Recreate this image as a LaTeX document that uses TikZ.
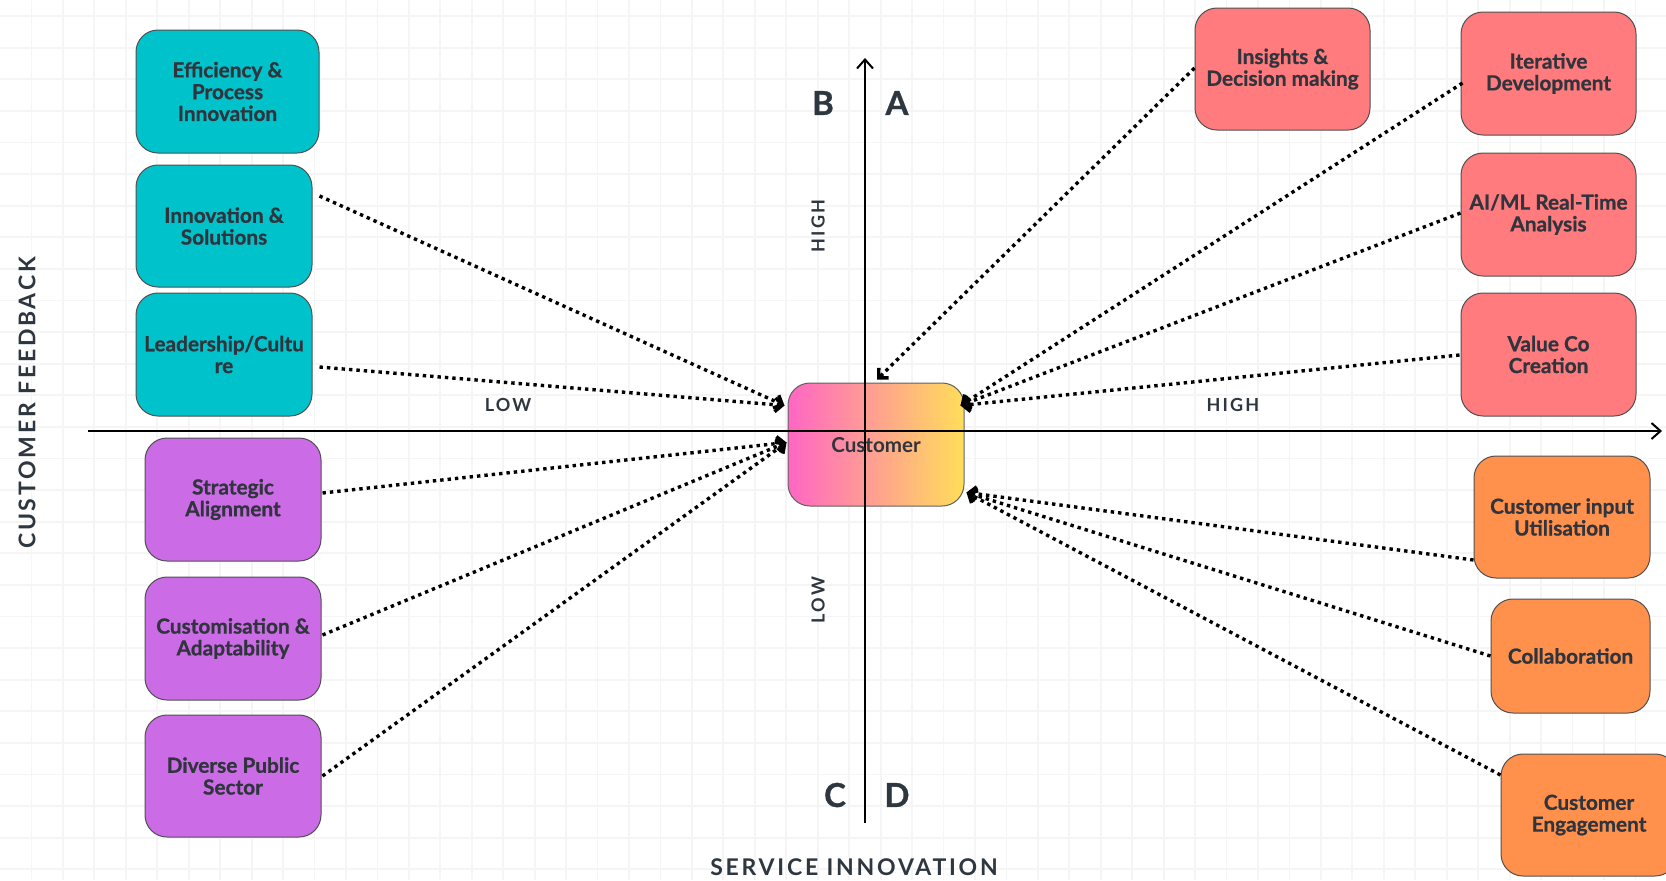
\documentclass[tikz,border=0pt]{standalone}
\usepackage{fontspec}
\setmainfont{Lato}
\newfontfamily\cardfont{Lato}[BoldFeatures={FakeBold=0.8}]
\newfontfamily\trackedfont{Lato}[LetterSpace=12]
\usetikzlibrary{arrows.meta,calc}

\definecolor{inkc}{HTML}{2E3640}
\definecolor{boxtextc}{HTML}{30343C}
\definecolor{edgec}{HTML}{505050}
\definecolor{gridc}{HTML}{F5F5F6}
\definecolor{tealc}{HTML}{00C2CB}
\definecolor{salmonc}{HTML}{FF7B7D}
\definecolor{violetc}{HTML}{CB6CE6}
\definecolor{orangec}{HTML}{FF914D}
\definecolor{pinkc}{HTML}{FF66C4}
\definecolor{yellowc}{HTML}{FFDE59}

\tikzset{
  gridline/.style={draw=gridc, line width=0.9pt},
  card/.style={draw=edgec, line width=0.5pt, rounded corners=11pt, align=center,
    inner sep=0pt, text=boxtextc, minimum width=88pt, minimum height=61pt,
    font=\cardfont\bfseries\fontsize{10.4}{10.9}\selectfont},
  axis/.style={line width=1pt, draw=black, -{Straight Barb[length=4.5pt,width=8pt]}},
  conn/.style={line width=1.7pt, dash pattern=on 1.7pt off 2pt,
    -{Straight Barb[length=3.5pt,width=7pt]}},
  quadrant/.style={text=inkc, font=\cardfont\bfseries\fontsize{16.5}{16.5}\selectfont},
  level/.style={text=inkc, font=\trackedfont\bfseries\fontsize{9}{9}\selectfont},
  title/.style={text=inkc, font=\trackedfont\bfseries\fontsize{11.5}{11.5}\selectfont}
}

\begin{document}
\begin{tikzpicture}[x=0.5pt,y=-0.5pt]
  \useasboundingbox (0,0) rectangle (1666,880);
  \clip (0,0) rectangle (1666,880);
  \fill[white] (0,0) rectangle (1666,880);

  % background grid
  \foreach \i in {1,...,53} \draw[gridline] (\i*31.45,0) -- (\i*31.45,880);
  \foreach \j in {0,...,27} \draw[gridline] (0,16+\j*31.6) -- (1666,16+\j*31.6);

  % central node
  \node[card, draw=edgec!90, left color=pinkc, right color=yellowc,
        minimum width=88pt, minimum height=61.5pt] (cust) at (876,444.5) {};

  % axes
  \coordinate (xl) at (88,431);
  \coordinate (xr) at (1662,431);
  \coordinate (yb) at (865,823);
  \coordinate (yt) at (865,58);
  \draw[axis] (xl) -- (xr);
  \draw[axis] (yb) -- (yt);

  \node[text=boxtextc, font=\bfseries\fontsize{10.3}{12}\selectfont] (custlabel) at (876,445) {Customer};

  % left column: teal
  \node[card, fill=tealc, minimum width=91.5pt, minimum height=61.5pt] (eff) at (227.5,91.5) {Efficiency \&\\Process\\Innovation};
  \node[card, fill=tealc] (inn) at (224,226) {Innovation \&\\Solutions};
  \node[card, fill=tealc, minimum height=61.5pt] (lead) at (224,354.5) {Leadership/Cultu\\re};

  % left column: violet
  \node[card, fill=violetc, minimum height=61.5pt] (strat) at (233,499.5) {Strategic\\Alignment};
  \node[card, fill=violetc, minimum height=61.5pt] (adapt) at (233,638.5) {Customisation \&\\Adaptability};
  \node[card, fill=violetc] (pub) at (233,776) {Diverse Public\\Sector};

  % right column: salmon
  \node[card, fill=salmonc, minimum width=87.5pt] (ins) at (1282.5,69) {Insights \&\\Decision making};
  \node[card, fill=salmonc, minimum width=87.5pt, minimum height=61.5pt] (iter) at (1548.5,73.5) {Iterative\\Development};
  \node[card, fill=salmonc, minimum width=87.5pt, minimum height=61.5pt] (aiml) at (1548.5,214.5) {AI/ML Real-Time\\Analysis};
  \node[card, fill=salmonc, minimum width=87.5pt, minimum height=61.5pt] (val) at (1548.5,354.5) {Value Co\\Creation};

  % right column: orange
  \node[card, fill=orangec] (cin) at (1562,517) {Customer input\\Utilisation};
  \node[card, fill=orangec, minimum width=79.5pt, minimum height=57pt] (coll) at (1570.5,656) {Collaboration};
  \node[card, fill=orangec] (eng) at (1589,815) {Customer\\Engagement};

  % arrow targets on the central node
  \coordinate (tUL) at ([shift={(-3,-39)}]cust.west);
  \coordinate (tLL) at ([shift={(-1,-2)}]cust.west);
  \coordinate (tTop) at ([shift={(1,-3)}]cust.north);
  \coordinate (tUR) at ([shift={(-4,-39)}]cust.east);
  \coordinate (tLR) at ([shift={(2,48)}]cust.east);

  % connectors
  \draw[conn] ([shift={(7,-30)}]inn.east) -- (tUL);
  \draw[conn] ([shift={(7,12.5)}]lead.east) -- (tUL);
  \draw[conn] ([shift={(1,-6.5)}]strat.east) -- (tLL);
  \draw[conn] ([shift={(1,-3.5)}]adapt.east) -- (tLL);
  \draw[conn] ([shift={(1,0)}]pub.east) -- (tLL);

  \draw[conn] ([shift={(0,-1)}]ins.west) -- (tTop);
  \draw[conn] ([shift={(2,9.5)}]iter.west) -- (tUR);
  \draw[conn] ([shift={(0,-1.5)}]aiml.west) -- (tUR);
  \draw[conn] ([shift={(-1,0.5)}]val.west) -- (tUR);
  \draw[conn] ([shift={(0,43)}]cin.west) -- (tLR);
  \draw[conn] (coll.west) -- (tLR);
  \draw[conn] ([shift={(0,-40)}]eng.west) -- (tLR);

  % quadrant letters
  \node[quadrant] (qB) at (823,103) {B};
  \node[quadrant] (qA) at (897,103) {A};
  \node[quadrant] (qC) at (835,795) {C};
  \node[quadrant] (qD) at (897,795) {D};

  % level labels
  \node[level, rotate=90] (vhigh) at (818,226) {HIGH};
  \node[level, rotate=90] (vlow) at (818,600) {LOW};
  \node[level] (hlow) at (508,405) {LOW};
  \node[level] (hhigh) at (1233,405) {HIGH};

  % axis titles
  \node[title] (xtitle) at (854,867) {SERVICE INNOVATION};
  \node[title, rotate=90] (ytitle) at (27,403) {CUSTOMER FEEDBACK};
\end{tikzpicture}
\end{document}
